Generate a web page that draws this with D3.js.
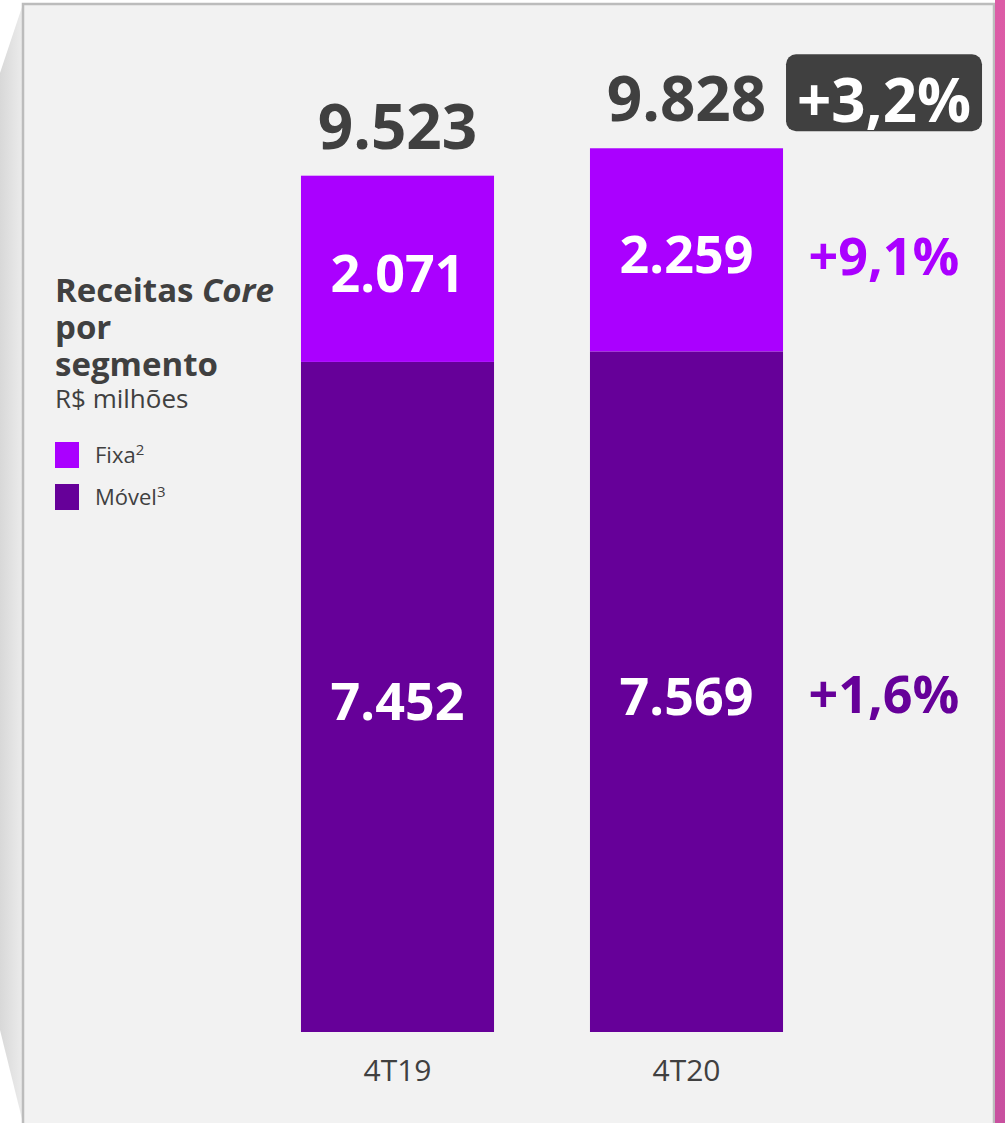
<!DOCTYPE html>
<html>
<head>
<meta charset="UTF-8">
<script src="https://d3js.org/d3.v7.min.js"></script>
<style>
    body {
        margin: 0;
        background: #ffffff;
        font-family: "Open Sans", sans-serif;
    }
    svg {
        display: block;
    }
    text.total {
        font-size: 62px;
        font-weight: 700;
        fill: #404040;
    }
    text.inner {
        font-size: 52px;
        font-weight: 700;
        fill: #ffffff;
    }
    text.growth {
        font-size: 52px;
        font-weight: 700;
    }
    text.cat {
        font-size: 30px;
        fill: #404040;
    }
    text.title {
        font-size: 33px;
        font-weight: 700;
        fill: #404040;
    }
    text.legend {
        font-size: 22px;
        fill: #404040;
    }
</style>
</head>
<body>
<svg width="1005" height="1123"></svg>
<script>
    // data
    var categories = ["4T19", "4T20"];
    var fixa = [2071, 2259];
    var movel = [7452, 7569];
    var totals = [9523, 9828];
    var growthTotal = "+3,2%";
    var growthFixa = "+9,1%";
    var growthMovel = "+1,6%";
    var seriesNames = ["Fixa", "Móvel"];
    var seriesSup = ["2", "3"];
    var colours = ["#aa00ff", "#660099"];

    var br = d3.formatLocale({ decimal: ",", thousands: ".", grouping: [3], currency: ["R$", ""] });
    var fmt = br.format(",d");

    var svg = d3.select("svg");
    var defs = svg.append("defs");

    var shade = defs.append("linearGradient").attr("id", "shade")
        .attr("x1", "0").attr("x2", "1").attr("y1", "0").attr("y2", "0");
    shade.append("stop").attr("offset", "0").attr("stop-color", "#d8d8d8");
    shade.append("stop").attr("offset", "1").attr("stop-color", "#ececec");

    var pink = defs.append("linearGradient").attr("id", "pink")
        .attr("x1", "0").attr("x2", "0").attr("y1", "0").attr("y2", "1");
    pink.append("stop").attr("offset", "0").attr("stop-color", "#dc5ca6");
    pink.append("stop").attr("offset", "1").attr("stop-color", "#c8509f");

    // frame
    svg.append("polygon")
        .attr("points", "0,73 23,4 23,1123 0,1030")
        .attr("fill", "url(#shade)");
    svg.append("rect")
        .attr("x", 23).attr("y", 4).attr("width", 971).attr("height", 1130)
        .attr("fill", "#f2f2f2")
        .attr("stroke", "#bcbcbc").attr("stroke-width", 2.5);
    svg.append("rect")
        .attr("x", 995).attr("y", 0).attr("width", 10).attr("height", 1123)
        .attr("fill", "url(#pink)");

    // scales
    var x = d3.scaleBand().domain(categories).range([253, 831])
        .paddingInner(0.332).paddingOuter(0.166);
    var y = d3.scaleLinear().domain([0, 10000]).range([1032, 132.8]);

    var rows = categories.map(function(c, i) {
        return { cat: c, fixa: fixa[i], movel: movel[i], total: totals[i] };
    });
    var stack = d3.stack().keys(["movel", "fixa"])(rows);
    var keyColour = { movel: colours[1], fixa: colours[0] };

    var g = svg.append("g");

    stack.forEach(function(layer) {
        g.selectAll(".bar-" + layer.key)
            .data(layer)
            .enter().append("rect")
            .attr("class", "bar-" + layer.key)
            .attr("x", function(d) { return x(d.data.cat); })
            .attr("y", function(d) { return y(d[1]); })
            .attr("width", x.bandwidth())
            .attr("height", function(d) { return y(d[0]) - y(d[1]); })
            .attr("fill", keyColour[layer.key]);

        g.selectAll(".inner-" + layer.key)
            .data(layer)
            .enter().append("text")
            .attr("class", "inner")
            .attr("text-anchor", "middle")
            .attr("x", function(d) { return x(d.data.cat) + x.bandwidth() / 2; })
            .attr("y", function(d) { return (y(d[0]) + y(d[1])) / 2 + 23; })
            .text(function(d) { return fmt(d[1] - d[0]); });
    });

    // totals
    g.selectAll(".total")
        .data(rows)
        .enter().append("text")
        .attr("class", "total")
        .attr("text-anchor", "middle")
        .attr("x", function(d) { return x(d.cat) + x.bandwidth() / 2; })
        .attr("y", function(d) { return y(d.total) - 27; })
        .text(function(d) { return fmt(d.total); });

    // category labels
    g.selectAll(".cat")
        .data(categories)
        .enter().append("text")
        .attr("class", "cat")
        .attr("text-anchor", "middle")
        .attr("x", function(d) { return x(d) + x.bandwidth() / 2; })
        .attr("y", y(0) + 49)
        .text(function(d) { return d; });

    // growth column
    var last = rows[rows.length - 1];
    var gx = x(last.cat) + x.bandwidth() + 101;

    var boxY = y(last.total) - 94;
    g.append("rect")
        .attr("x", gx - 98).attr("y", boxY)
        .attr("width", 196).attr("height", 77)
        .attr("rx", 10)
        .attr("fill", "#404040");
    g.append("text")
        .attr("class", "growth")
        .attr("text-anchor", "middle")
        .attr("x", gx)
        .attr("y", y(last.total) - 26)
        .style("font-size", "60px")
        .attr("fill", "#ffffff")
        .text(growthTotal);

    g.append("text")
        .attr("class", "growth")
        .attr("text-anchor", "middle")
        .attr("x", gx)
        .attr("y", (y(last.movel) + y(last.total)) / 2 + 25)
        .attr("fill", colours[0])
        .text(growthFixa);
    g.append("text")
        .attr("class", "growth")
        .attr("text-anchor", "middle")
        .attr("x", gx)
        .attr("y", (y(0) + y(last.movel)) / 2 + 21)
        .attr("fill", colours[1])
        .text(growthMovel);

    // title + legend (one text block, lines as tspans)
    var t = svg.append("text").attr("class", "title").attr("x", 55).attr("y", 302);
    t.append("tspan").text("Receitas ");
    t.append("tspan").style("font-style", "italic").text("Core");
    t.append("tspan").attr("x", 55).attr("dy", 37).text("por");
    t.append("tspan").attr("x", 55).attr("dy", 37).text("segmento");
    t.append("tspan").attr("x", 55).attr("dy", 32)
        .style("font-size", "26px").style("font-weight", 400).text("R$ milhões");

    var leg = svg.selectAll(".leg")
        .data(seriesNames)
        .enter().append("g")
        .attr("class", "leg")
        .attr("transform", function(d, i) { return "translate(55," + (442 + i * 42) + ")"; });
    leg.append("rect")
        .attr("width", 24).attr("height", 26)
        .attr("fill", function(d, i) { return colours[i]; });
    var lt = leg.append("text")
        .attr("class", "legend")
        .attr("x", 40).attr("y", 21);
    lt.append("tspan").text(function(d) { return d; });
    lt.append("tspan")
        .attr("dy", -8)
        .style("font-size", "15px")
        .text(function(d, i) { return seriesSup[i]; });
</script>
</body>
</html>
